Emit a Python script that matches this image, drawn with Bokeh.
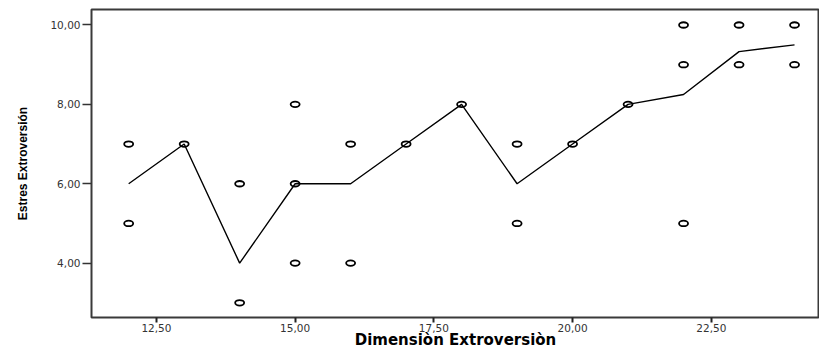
from bokeh.plotting import figure
from bokeh.models import FixedTicker, Range1d
from bokeh.embed import file_html
from bokeh.resources import INLINE

# Observed cases: extroversion dimension vs. extroversion stress
obs_x = [12, 12, 13, 14, 14, 15, 15, 15, 16, 16, 17, 18, 19, 19, 20, 21, 22, 22, 22, 23, 23, 24, 24]
obs_y = [7, 5, 7, 6, 3, 8, 6, 4, 7, 4, 7, 8, 7, 5, 7, 8, 10, 9, 5, 10, 9, 10, 9]

# Fit line through the group values
fit_x = [12, 13, 14, 15, 16, 17, 18, 19, 20, 21, 22, 23, 24]
fit_y = [6, 7, 4, 6, 6, 7, 8, 6, 7, 8, 8.25, 9.33, 9.5]

x_ticks = [12.5, 15.0, 17.5, 20.0, 22.5]
y_ticks = [4.0, 6.0, 8.0, 10.0]

def comma_label(v):
    return f"{v:.2f}".replace(".", ",")

p = figure(width=819, height=351, output_backend="svg", toolbar_location=None,
           x_range=Range1d(11.33, 24.45), y_range=Range1d(2.63, 10.39),
           min_border_left=91, min_border_right=0, min_border_top=9, min_border_bottom=34)

p.xgrid.visible = False
p.ygrid.visible = False
p.background_fill_color = "white"
p.border_fill_color = "white"
p.outline_line_color = "#3a3a3a"
p.outline_line_width = 2

p.line(fit_x, fit_y, line_color="black", line_width=1.4)
p.ellipse(x=obs_x, y=obs_y, width=9, height=5.5, width_units="screen", height_units="screen",
          fill_color=None, line_color="black", line_width=1.8)

for ax in (p.xaxis[0], p.yaxis[0]):
    ax.axis_line_color = None
    ax.minor_tick_line_color = None
    ax.major_tick_in = 0
    ax.major_label_text_font = "DejaVu Sans"
    ax.major_label_text_font_size = "10.5px"
    ax.major_label_text_color = "#333333"
    ax.axis_label_text_font_style = "bold"
    ax.axis_label_text_color = "black"

p.xaxis.ticker = FixedTicker(ticks=x_ticks)
p.xaxis.major_label_overrides = {t: comma_label(t) for t in x_ticks}
p.xaxis.major_tick_out = 5
p.xaxis.major_tick_line_width = 2
p.xaxis.major_tick_line_color = "#222222"
p.xaxis.major_label_standoff = 1
p.xaxis.axis_label = "Dimensiòn Extroversiòn"
p.xaxis.axis_label_text_font = "DejaVu Sans"
p.xaxis.axis_label_text_font_size = "15px"
p.xaxis.axis_label_standoff = -4

p.yaxis.ticker = FixedTicker(ticks=y_ticks)
p.yaxis.major_label_overrides = {t: comma_label(t) for t in y_ticks}
p.yaxis.major_tick_out = 9
p.yaxis.major_tick_line_width = 1.5
p.yaxis.major_tick_line_color = "#333333"
p.yaxis.major_label_standoff = 2
p.yaxis.axis_label = "Estres Extroversión"
p.yaxis.axis_label_text_font = "Liberation Sans"
p.yaxis.axis_label_text_font_size = "12px"
p.yaxis.axis_label_standoff = 17

open("out.html", "w").write(file_html(p, INLINE))
